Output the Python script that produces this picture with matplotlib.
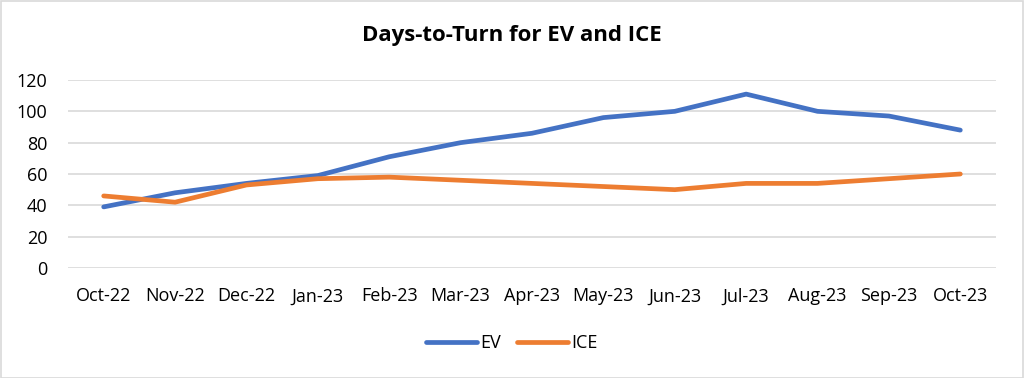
import matplotlib
matplotlib.use("Agg")
import matplotlib.pyplot as plt
from matplotlib.patches import Rectangle

months = ["Oct-22", "Nov-22", "Dec-22", "Jan-23", "Feb-23", "Mar-23", "Apr-23",
          "May-23", "Jun-23", "Jul-23", "Aug-23", "Sep-23", "Oct-23"]
ev = [39, 48, 54, 59, 71, 80, 86, 96, 100, 111, 100, 97, 88]
ice = [46, 42, 53, 57, 58, 56, 54, 52, 50, 54, 54, 57, 60]
yticks = [0, 20, 40, 60, 80, 100, 120]

plt.rcParams['font.family'] = ['Open Sans', 'DejaVu Sans']

W, H = 1024, 378
fig = plt.figure(figsize=(W / 100, H / 100), dpi=100)
ax = fig.add_axes([68 / W, 1 - 268 / H, (996 - 68) / W, (268 - 80) / H])

x = list(range(len(months)))
ax.plot(x, ev, color="#4472C4", lw=3.4, solid_capstyle="round", label="EV", zorder=3)
ax.plot(x, ice, color="#ED7D31", lw=3.4, solid_capstyle="round", label="ICE", zorder=3)

ax.set_xlim(-0.5, len(months) - 0.5)
ax.set_ylim(0, 120)
ax.set_yticks(yticks)
ax.set_xticks(x)
ax.set_xticklabels(months)
ax.grid(axis="y", color="#D9D9D9", lw=1.2)
ax.set_axisbelow(True)
for s in ax.spines.values():
    s.set_visible(False)
ax.tick_params(axis="both", length=0, labelsize=13, colors="#000000")
ax.tick_params(axis="y", pad=15)
ax.tick_params(axis="x", pad=14)

fig.text(0.5, 1 - 36 / H, "Days-to-Turn for EV and ICE", ha="center", va="center",
         fontsize=16, fontweight="bold")

leg = fig.legend(loc="center", bbox_to_anchor=(0.5, 1 - 343 / H), ncol=2, frameon=False,
                 fontsize=13, handlelength=2.8, columnspacing=0.9, handletextpad=0.2)

fig.patches.append(Rectangle((0.5 / W, 0.5 / H), 1 - 1.5 / W, 1 - 1.5 / H,
                             transform=fig.transFigure, fill=False,
                             edgecolor="#D9D9D9", lw=1.2))

fig.savefig("out.png", dpi=100)
